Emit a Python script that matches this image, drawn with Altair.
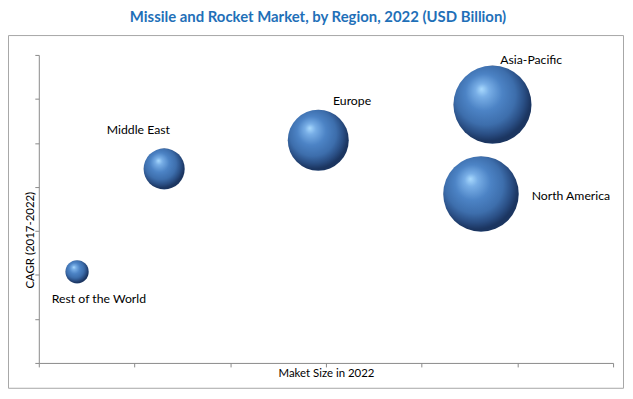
import altair as alt
import pandas as pd

regions = ["Rest of the World", "Middle East", "Europe", "Asia-Pacific", "North America"]
market_x = [0.40, 1.31, 2.92, 4.74, 4.62]
cagr_y = [2.07, 4.41, 5.06, 5.87, 3.84]
bubble = [0.55, 1.71, 3.77, 6.18, 5.78]

title_text = "Missile and Rocket Market, by Region, 2022 (USD Billion)"

df = pd.DataFrame({"region": regions, "x": market_x, "y": cagr_y, "s": bubble})

FONT = "Lato"
W, H = 578, 310

xs = alt.Scale(domain=[0, 6], nice=False, zero=True)
ys = alt.Scale(domain=[0, 7], nice=False, zero=True)

gradient = {
    "gradient": "radial",
    "x1": 0.36, "y1": 0.3, "r1": 0.0,
    "x2": 0.44, "y2": 0.42, "r2": 0.62,
    "stops": [
        {"offset": 0.0, "color": "#a9dafe"},
        {"offset": 0.14, "color": "#78aee6"},
        {"offset": 0.38, "color": "#4c83c5"},
        {"offset": 0.62, "color": "#3d6eac"},
        {"offset": 0.78, "color": "#2a4f85"},
        {"offset": 0.9, "color": "#1b3560"},
    ],
}

base = alt.Chart(df)

bubbles = base.mark_point(filled=True, shape="circle", fill=gradient, opacity=1, strokeWidth=0).encode(
    x=alt.X("x:Q", scale=xs, axis=alt.Axis(
        title="Maket Size in 2022", labels=False, grid=False, values=[0, 1, 2, 3, 4, 5, 6],
        domainColor="#8a8a8a", tickColor="#8a8a8a", tickSize=4,
        titleFont=FONT, titleFontSize=11.5, titleFontWeight="normal", titleColor="#000000",
        titleBaseline="middle", titleY=11, titleX=W / 2)),
    y=alt.Y("y:Q", scale=ys, axis=alt.Axis(
        title="CAGR (2017-2022)", labels=False, grid=False, values=[0, 1, 2, 3, 4, 5, 6, 7],
        domainColor="#8a8a8a", tickColor="#8a8a8a", tickSize=4,
        titleFont=FONT, titleFontSize=11.5, titleFontWeight="normal", titleColor="#000000",
        titleAngle=270, titleAlign="center", titleBaseline="middle", titleX=-8, titleY=186)),
    size=alt.Size("s:Q", scale=alt.Scale(domain=[0, 7], range=[0, 7000]), legend=None),
)

label_style = {
    "Rest of the World": dict(dx=22, dy=27, align="center"),
    "Middle East": dict(dx=-26, dy=-39, align="center"),
    "Europe": dict(dx=34, dy=-40, align="center"),
    "Asia-Pacific": dict(dx=39, dy=-45, align="center"),
    "North America": dict(dx=51, dy=2, align="left"),
}

labels = []
for r, st in label_style.items():
    labels.append(
        base.transform_filter(alt.datum.region == r).mark_text(
            font=FONT, fontSize=12.3, color="#000000", baseline="middle", **st
        ).encode(x=alt.X("x:Q", scale=xs), y=alt.Y("y:Q", scale=ys), text="region:N")
    )

frame = alt.Chart(pd.DataFrame({"k": [0]})).mark_rect(
    filled=False, stroke="#a6a6a6", strokeWidth=1
).encode(x=alt.value(-30.5), x2=alt.value(588.5), y=alt.value(-19.5), y2=alt.value(335.5))

title = alt.Chart(pd.DataFrame({"t": [title_text]})).mark_text(
    font=FONT, fontSize=15, fontWeight="bold", color="#1f70b8", align="center", baseline="alphabetic"
).encode(text="t:N", x=alt.value(281), y=alt.value(-33))

chart = alt.layer(frame, bubbles, *labels, title).properties(
    width=W, height=H,
    autosize=alt.AutoSizeParams(type="none"),
    padding={"left": 31, "top": 46, "right": 12, "bottom": 26},
).configure_view(strokeWidth=0)

chart.save("out.html", embed_options={"renderer": "svg", "actions": False})
